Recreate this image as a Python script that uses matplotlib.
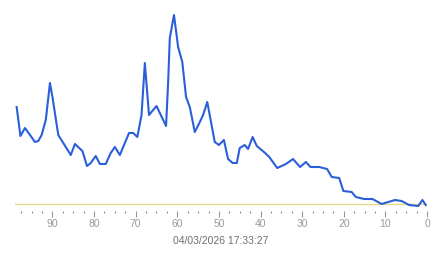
import numpy as np
import matplotlib
matplotlib.use("Agg")
import matplotlib.pyplot as plt
from matplotlib.ticker import MultipleLocator

# age (counting down to 0) and value
ages = [98.6, 97.7, 96.6, 94.2, 93.4, 92.6, 91.6, 90.6, 90.0, 88.6,
        85.6, 84.6, 82.8, 81.7, 80.8, 79.6, 78.6, 77.2, 76.0, 75.0,
        73.8, 71.6, 70.6, 69.6, 68.6, 67.8, 66.8, 65.0, 62.7, 62.2,
        61.8, 60.8, 59.8, 58.8, 57.9, 57.0, 55.8, 54.7, 53.8, 52.8,
        51.0, 50.0, 48.8, 47.8, 46.7, 45.7, 45.0, 43.8, 43.0, 41.9,
        40.9, 38.9, 37.9, 36.0, 33.9, 32.2, 30.5, 29.1, 28.0, 25.9,
        24.0, 22.9, 21.1, 20.1, 18.1, 17.1, 15.1, 13.1, 10.9, 9.3,
        7.7, 6.1, 4.3, 2.1, 1.1, 0.3]
values = [97, 68, 76, 62, 63, 69, 84, 121, 107, 69,
          49, 60, 53, 38, 41, 48, 40, 40, 51, 57,
          49, 71, 71, 67, 89, 141, 89, 98, 78, 122,
          166, 189, 157, 142, 107, 97, 72, 81, 89, 102,
          62, 59, 64, 45, 41, 41, 56, 59, 55, 67,
          58, 51, 47, 36, 40, 45, 37, 42, 37, 37,
          35, 27, 26, 13, 12, 7, 5, 5, 0, 2,
          4, 3, -1, -2, 4, -1]
threshold = 0
title = "04/03/2026 17:33:27"

W, H = 443, 258
fig = plt.figure(figsize=(W / 100, H / 100), dpi=100)
# axes from x=15..427 px, y=4..211 px (value 0 at 204 px)
ax = fig.add_axes([15 / W, (H - 211) / H, 412 / W, 207 / H])
ax.set_xlim(99, 0)
ax.set_ylim(-7, 200)

ax.axhline(threshold, color="#e9d88a", lw=1.0, zorder=1)
ax.plot(ages, values, color="#2b5fd9", lw=1.5, zorder=2,
        solid_joinstyle="round")

for s in ax.spines.values():
    s.set_visible(False)
ax.set_yticks([])
ax.xaxis.set_major_locator(MultipleLocator(10))
ax.xaxis.set_minor_locator(MultipleLocator(2.5))
ax.tick_params(axis="x", which="major", length=4, width=0.8, color="#999999",
               labelcolor="#9a9a9a", labelsize=7.5, pad=2)
ax.tick_params(axis="x", which="minor", length=1.5, width=0.8, color="#888888")
for lab in ax.get_xticklabels():
    lab.set_family("Liberation Sans")

fig.text(0.5 * (15 + 427) / W, (H - 241) / H, title, ha="center", va="center",
         color="#6e6e6e", fontsize=7.5, family="Liberation Sans")

fig.savefig("out.png", dpi=100)
